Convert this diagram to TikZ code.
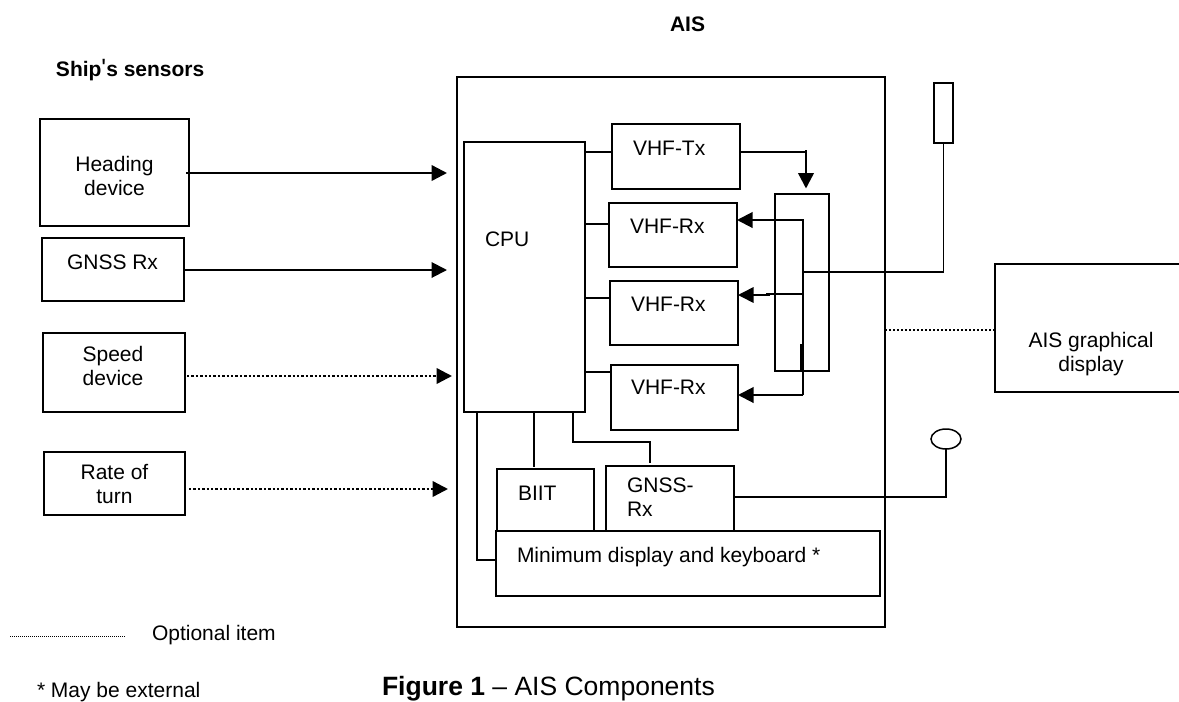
\documentclass[tikz,border=0pt]{standalone}
\usepackage{fontspec}
\setmainfont{Liberation Sans}
\newfontfamily\plainfam{Liberation Sans}
\usetikzlibrary{arrows.meta,calc,shapes.geometric}
\tikzset{
  box/.style={draw=black,line width=1.5pt,fill=none,rectangle,inner sep=0pt,outer sep=0pt},
  lbl/.style={inner sep=0pt,outer sep=0pt,anchor=base west,font=\fontsize{21}{24}\selectfont},
  clbl/.style={inner sep=0pt,outer sep=0pt,anchor=north,align=center,font=\fontsize{21}{24}\selectfont},
  wire/.style={draw=black,line width=1.5pt},
  feed/.style={draw=black,line width=2.4pt,-{Triangle[length=15.5pt,width=15.5pt]}},
  optfeed/.style={draw=black,line width=2.4pt,dash pattern=on 2.4pt off 2pt,-{Triangle[length=15.5pt,width=15.5pt]}},
  optwire/.style={draw=black,line width=1.5pt,dash pattern=on 2pt off 2pt},
}
\newcommand{\rbox}[5]{\node[box,minimum width=#4pt-#2pt,minimum height=#5pt-#3pt] (#1) at ({(#2+#4)/2},{(#3+#5)/2}) {};}
\begin{document}
\begin{tikzpicture}[x=1pt,y=-1pt]
\useasboundingbox (0,0) rectangle (1179,702);
% sensors
\rbox{hd}{40}{119}{189}{226}
\rbox{gn}{42}{238}{184}{301}
\rbox{sp}{43}{333}{185}{412}
\rbox{rt}{44}{452}{185}{515}
% AIS unit
\rbox{ais}{457}{77}{885}{627}
\rbox{cpu}{464}{142}{585}{412}
\rbox{tx}{612}{124}{740}{189}
\rbox{rxa}{609}{203}{737}{267}
\rbox{rxb}{610}{281}{738}{345}
\rbox{rxc}{611}{365}{738}{430}
\rbox{sw}{775}{194}{829}{371}
\rbox{biit}{497}{469}{594}{531}
\rbox{gps}{606}{466}{734}{531}
\rbox{mkd}{496}{531}{880}{596}
\rbox{ant}{934}{83}{953}{143}
\node[draw=black,line width=1.5pt,ellipse,minimum width=30pt,minimum height=20pt,inner sep=0pt,outer sep=0pt] (gant) at (946,439) {};
% external display (runs off the page on the right)
\coordinate (dtl) at (1179,264);
\coordinate (dbl) at (1179,392);
\node[inner sep=0pt,outer sep=0pt,minimum width=184pt,minimum height=128pt] (disp) at (1087,328) {};
\draw[wire] (dtl) -- (disp.north west) -- (disp.south west) -- (dbl);
% free ends
\coordinate (hdtip) at (447,173);
\coordinate (gntip) at (447,270);
\coordinate (sptip) at (452,376);
\coordinate (rttip) at (448,489);
\coordinate (spout) at (187,376);
\coordinate (rtout) at (189,489);
\draw[feed] (hd.east |- hdtip) ++(-3,0) -- (hdtip);
\draw[feed,line width=2pt] (gn.east |- gntip) -- (gntip);
\draw[optfeed] (spout) -- (sptip);
\draw[optfeed] (rtout) -- (rttip);
% CPU to radios
\draw[wire] (cpu.east |- 0,152) -- (tx.west |- 0,152);
\draw[wire] (cpu.east |- 0,224) -- (rxa.west |- 0,224);
\draw[wire] (cpu.east |- 0,298) -- (rxb.west |- 0,298);
\draw[wire,line width=2pt] (cpu.east |- 0,372) -- (rxc.west |- 0,372);
% TX to switch
\coordinate (txd) at (806,152);
\draw[wire] (tx.east |- txd) -- (txd);
\draw[feed] (806,150) -- (806,188.5);
% switch bus
\coordinate (busa) at (803,220);
\coordinate (busb) at (803,294);
\coordinate (busc) at (803,395);
\coordinate (busant) at (804,272);
\draw[wire] (775,220) -- (busa) -- (busc);
\draw[feed,line width=2pt] (775,220) -- (rxa.east |- busa);
\draw[wire,line width=2pt] (busb) -- (766,294);
\draw[feed,line width=1.6pt] (770,295) -- (rxb.east |- 0,295);
\draw[feed,line width=2pt] (busc) -- (rxc.east |- busc);
\draw[wire,line width=2.4pt] (801,344) -- (801,372);
% antenna feed
\draw[wire,line width=1.7pt] (busant) -- (ant.south |- busant) -- (ant.south);
\draw[wire,line width=2pt] (busant) -- (835,272);
% bottom links
\draw[wire] (cpu.south -| 477,0) -- (477,560) -- (mkd.west |- 0,560);
\draw[wire] (cpu.south -| 534,0) -- (534,467);
\draw[wire] (cpu.south -| 573,0) -- (573,442) -- (650,442) -- (650,463);
\draw[wire,line width=1.7pt] (gps.east |- 0,497) -- (gant.south |- 0,497) -- (gant.south);
% optional display link
\draw[optwire] (ais.east |- 0,330) -- (disp.west |- 0,330);
% legend
\coordinate (lega) at (10,636);
\coordinate (legb) at (125,636);
\draw[draw=black,line width=1pt,dash pattern=on 1pt off 1pt] (lega) -- (legb);
% labels
\node[lbl] (t1) at (670,31) {\bfseries AIS};
\node[lbl] (t2) at (56,76) {\plainfam\bfseries Ship{\fontsize{25}{25}\selectfont\mdseries '}s sensors};
\node[clbl] (t3) at (114.5,156) {Heading\\device};
\node[lbl] (t4) at (67,269) {GNSS Rx};
\node[clbl] (t5) at (113,346) {Speed\\device};
\node[clbl] (t6) at (114.5,464) {Rate of\\turn};
\node[lbl] (t7) at (485,246) {CPU};
\node[lbl] (t8) at (633,155) {VHF-Tx};
\node[lbl] (t9) at (630,233) {VHF-Rx};
\node[lbl] (t10) at (631,311) {VHF-Rx};
\node[lbl] (t11) at (631,394) {VHF-Rx};
\node[lbl] (t12) at (518,500) {BIIT};
\node[clbl,align=left,anchor=north west] (t13) at (627,478) {GNSS-\\Rx};
\node[lbl] (t14) at (517,562) {Minimum display and keyboard *};
\node[clbl] (t15) at (1091,332) {AIS graphical\\display};
\node[lbl] (t16) at (152,640) {Optional item};
\node[lbl] (t17) at (37,697) {* May be external};
\node[lbl,font=\fontsize{26.5}{30}\selectfont] (t18) at (382,695.5) {\textbf{Figure 1} -- AIS Components};
\end{tikzpicture}
\end{document}
